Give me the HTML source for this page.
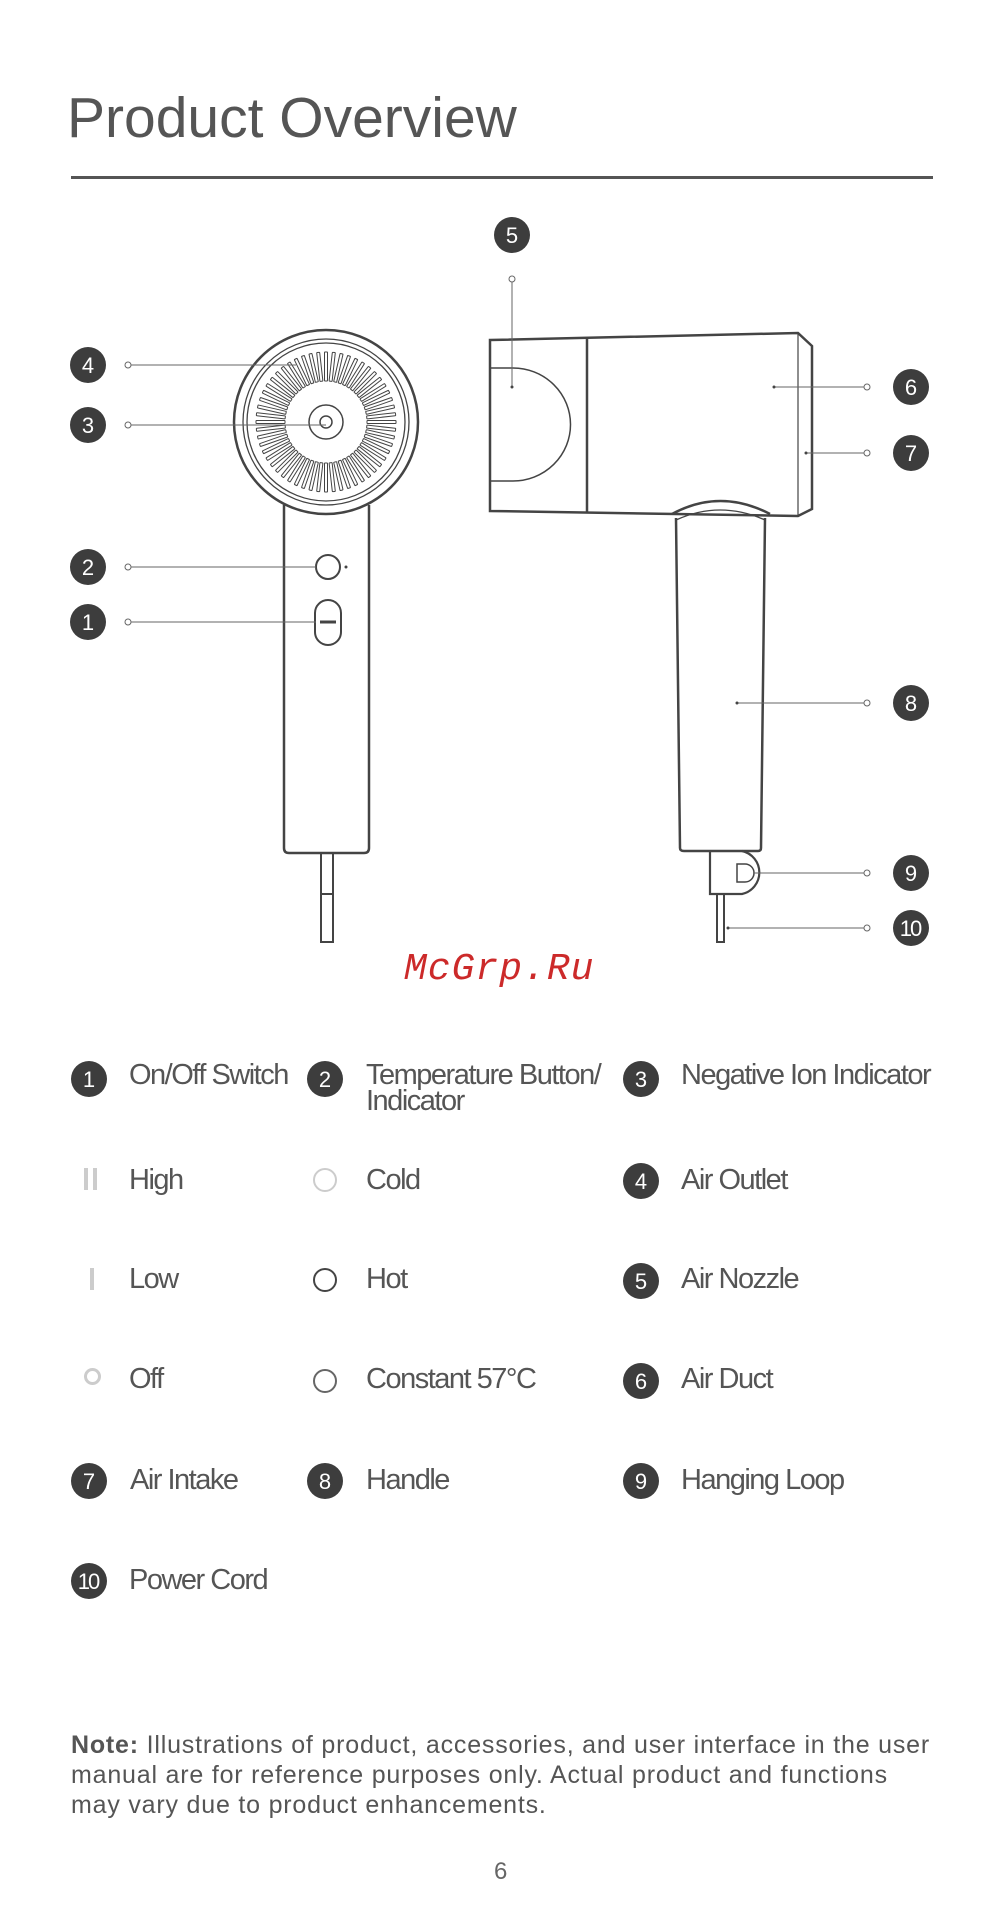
<!DOCTYPE html>
<html><head><meta charset="utf-8"><style>
body{margin:0;background:#fff;}
#p{position:relative;width:1000px;height:1929px;overflow:hidden;font-family:"Liberation Sans",sans-serif;color:#555;}
.t{position:absolute;font-size:29px;letter-spacing:-1.5px;line-height:26px;white-space:nowrap;}
.b{position:absolute;width:36px;height:36px;border-radius:50%;background:#3d3d3d;color:#fff;font-size:22px;text-align:center;line-height:37px;}
</style></head><body><div id="p">
<div style="position:absolute;left:67px;top:85px;font-size:57px;color:#555;">Product Overview</div>
<div style="position:absolute;left:71px;top:176px;width:862px;height:3px;background:#555;"></div>

<svg style="position:absolute;left:0;top:0" width="1000" height="1000" fill="none" stroke="#444" stroke-width="2">
<g id="vents" stroke-width="1"></g>
<circle cx="326" cy="422" r="92" stroke-width="2.5"/>
<circle cx="326" cy="422" r="83" stroke-width="1.3"/>
<circle cx="326" cy="422" r="79" stroke-width="1.3"/>
<circle cx="326" cy="422" r="17" stroke-width="1.5"/>
<circle cx="326" cy="422" r="6" stroke-width="1.5"/>
<path d="M284 505 L284 848 Q284 853 289 853 L364 853 Q369 853 369 848 L369 505" stroke-width="2.5"/>
<circle cx="328" cy="567" r="12" stroke-width="2"/>
<circle cx="346" cy="567" r="1.5" fill="#444" stroke="none"/>
<rect x="315" y="600" width="26" height="45" rx="13" stroke-width="2"/>
<line x1="320" y1="622" x2="336" y2="622" stroke-width="3"/>
<path d="M321 853 V942 H333 V853 M321 894 H333" stroke-width="2"/>
<!-- side -->
<path d="M490 340 L798 333 L812 346 L812 509 L798 516 L490 511 Z" stroke-width="2.5"/>
<line x1="587" y1="339" x2="587" y2="513" stroke-width="2.5"/>
<line x1="798" y1="333" x2="798" y2="516" stroke-width="1.2"/>
<path d="M491 368 L513 368 A57 56 0 0 1 513 481 L491 481" stroke-width="1.5"/>
<path d="M672 514 Q720 488 770 514" stroke-width="2.5"/>
<path d="M676 520 Q720 500 765 520" stroke-width="1.3"/>
<path d="M676 518 L680 848 Q680 851 684 851 L758 851 Q761 851 761 848 L765 518" stroke-width="2.5"/>
<path d="M710 851 V894 H742 A22 22 0 0 0 742 851" stroke-width="2.2"/>
<path d="M737 864 H745 A9 9 0 0 1 745 882 H737 Z" stroke-width="1.5"/>
<path d="M717 894 V942 H724 V894" stroke-width="2"/>
<!-- leaders -->
<g stroke="#666" stroke-width="1">
<line x1="131" y1="365" x2="296" y2="365"/><line x1="131" y1="425" x2="326" y2="425"/>
<line x1="131" y1="567" x2="316" y2="567"/><line x1="131" y1="622" x2="316" y2="622"/>
<line x1="512" y1="282" x2="512" y2="387"/>
<line x1="774" y1="387" x2="864" y2="387"/><line x1="806" y1="453" x2="864" y2="453"/>
<line x1="737" y1="703" x2="864" y2="703"/><line x1="753" y1="873" x2="864" y2="873"/>
<line x1="728" y1="928" x2="864" y2="928"/>
<circle cx="128" cy="365" r="3" fill="#fff"/><circle cx="128" cy="425" r="3" fill="#fff"/>
<circle cx="128" cy="567" r="3" fill="#fff"/><circle cx="128" cy="622" r="3" fill="#fff"/>
<circle cx="512" cy="279" r="3" fill="#fff"/>
<circle cx="867" cy="387" r="3" fill="#fff"/><circle cx="867" cy="453" r="3" fill="#fff"/>
<circle cx="867" cy="703" r="3" fill="#fff"/><circle cx="867" cy="873" r="3" fill="#fff"/>
<circle cx="867" cy="928" r="3" fill="#fff"/>
</g>
<g fill="#444" stroke="none"><circle cx="512" cy="387" r="1.5"/><circle cx="774" cy="387" r="1.5"/><circle cx="806" cy="453" r="1.5"/><circle cx="737" cy="703" r="1.5"/><circle cx="728" cy="928" r="1.5"/></g>
</svg>
<script>
(function(){var g=document.getElementById('vents'),s='';for(var i=0;i<56;i++){s+='<g transform="rotate('+(i*360/56)+' 326 422)"><rect x="324.5" y="352" width="3" height="29" rx="0.5"/></g>';}g.innerHTML=s;})();
</script>

<div class="b" style="left:70px;top:347px">4</div>
<div class="b" style="left:70px;top:407px">3</div>
<div class="b" style="left:70px;top:549px">2</div>
<div class="b" style="left:70px;top:604px">1</div>
<div class="b" style="left:494px;top:217px">5</div>
<div class="b" style="left:893px;top:369px">6</div>
<div class="b" style="left:893px;top:435px">7</div>
<div class="b" style="left:893px;top:685px">8</div>
<div class="b" style="left:893px;top:855px">9</div>
<div class="b" style="left:893px;top:910px;letter-spacing:-2px;text-indent:-2px">10</div>

<div style="position:absolute;left:404px;top:948px;font-family:'Liberation Mono',monospace;font-style:italic;font-size:38px;color:#cc2a2a;letter-spacing:1px">McGrp.Ru</div>

<!-- legend -->
<div class="b" style="left:71px;top:1061px">1</div><div class="t" style="left:129px;top:1062px">On/Off Switch</div>
<div class="b" style="left:307px;top:1061px">2</div><div class="t" style="left:366px;top:1062px">Temperature Button/<br>Indicator</div>
<div class="b" style="left:623px;top:1061px">3</div><div class="t" style="left:681px;top:1062px">Negative Ion Indicator</div>

<div style="position:absolute;left:84px;top:1168px;width:4px;height:22px;background:#ccc"></div><div style="position:absolute;left:93px;top:1168px;width:4px;height:22px;background:#ccc"></div>
<div class="t" style="left:129px;top:1167px">High</div>
<div style="position:absolute;left:313px;top:1168px;width:20px;height:20px;border:2px solid #ccc;border-radius:50%"></div><div class="t" style="left:366px;top:1167px">Cold</div>
<div class="b" style="left:623px;top:1163px">4</div><div class="t" style="left:681px;top:1167px">Air Outlet</div>

<div style="position:absolute;left:90px;top:1268px;width:4px;height:22px;background:#ccc"></div>
<div class="t" style="left:129px;top:1266px">Low</div>
<div style="position:absolute;left:313px;top:1268px;width:20px;height:20px;border:2px solid #444;border-radius:50%"></div><div class="t" style="left:366px;top:1266px">Hot</div>
<div class="b" style="left:623px;top:1263px">5</div><div class="t" style="left:681px;top:1266px">Air Nozzle</div>

<div style="position:absolute;left:84px;top:1368px;width:11px;height:11px;border:3px solid #ccc;border-radius:50%"></div>
<div class="t" style="left:129px;top:1366px">Off</div>
<div style="position:absolute;left:313px;top:1369px;width:20px;height:20px;border:2px solid #666;border-radius:50%"></div><div class="t" style="left:366px;top:1366px">Constant 57°C</div>
<div class="b" style="left:623px;top:1363px">6</div><div class="t" style="left:681px;top:1366px">Air Duct</div>

<div class="b" style="left:71px;top:1463px">7</div><div class="t" style="left:130px;top:1467px">Air Intake</div>
<div class="b" style="left:307px;top:1463px">8</div><div class="t" style="left:366px;top:1467px">Handle</div>
<div class="b" style="left:623px;top:1463px">9</div><div class="t" style="left:681px;top:1467px">Hanging Loop</div>

<div class="b" style="left:71px;top:1563px;letter-spacing:-2px;text-indent:-2px">10</div><div class="t" style="left:129px;top:1567px">Power Cord</div>

<div style="position:absolute;left:71px;top:1730px;width:920px;font-size:25px;letter-spacing:0.8px;line-height:30px;color:#555;white-space:nowrap"><b>Note:</b> Illustrations of product, accessories, and user interface in the user<br>manual are for reference purposes only. Actual product and functions<br>may vary due to product enhancements.</div>
<div style="position:absolute;left:494px;top:1858px;font-size:24px;color:#666">6</div>
</div></body></html>
